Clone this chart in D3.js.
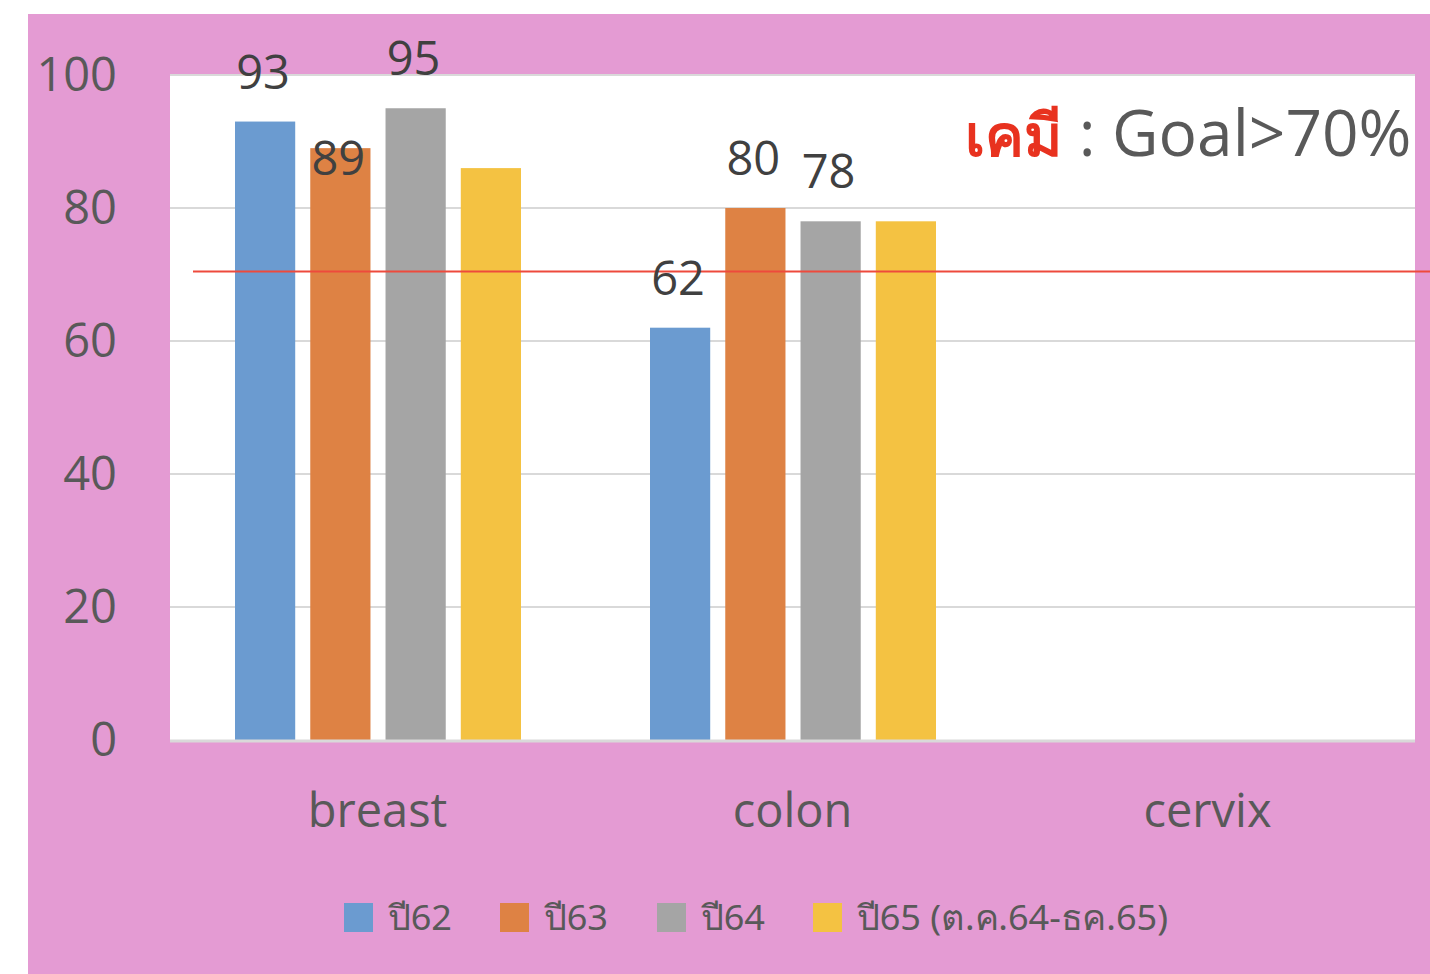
<!DOCTYPE html>
<html>
<head>
<meta charset="utf-8">
<script src="https://cdn.jsdelivr.net/npm/d3@7"></script>
<style>
body { margin: 0; background: #fff; }
text { font-family: "Open Sans", "Noto Sans", sans-serif; }
</style>
</head>
<body>
<div id="chart"></div>
<script>
// data
var categories = ["breast", "colon", "cervix"];
var seriesNames = ["ปี62", "ปี63", "ปี64", "ปี65 (ต.ค.64-ธค.65)"];
var y62 = [93, 62, null];
var y63 = [89, 80, null];
var y64 = [95, 78, null];
var y65 = [86, 78, null];
// labels shown on the chart (null = no label)
var lab62 = [93, 62, null];
var lab63 = [89, 80, null];
var lab64 = [95, 78, null];
var lab65 = [null, null, null];
var yTicks = [0, 20, 40, 60, 80, 100];
var goal = 70;

var colors = ["#6b9bd0", "#de8244", "#a5a5a5", "#f4c242"];
var seriesVals = [y62, y63, y64, y65];
var seriesLabs = [lab62, lab63, lab64, lab65];

var W = 1430, H = 974;
var plot = {left: 170, right: 1415, top: 75, bottom: 740};

var svg = d3.select("#chart").append("svg")
  .attr("width", W).attr("height", H);

// pink frame
svg.append("rect")
  .attr("x", 28).attr("y", 14)
  .attr("width", W - 28).attr("height", H - 14)
  .attr("fill", "#e49bd3");

svg.append("rect")
  .attr("x", plot.left).attr("y", plot.top)
  .attr("width", plot.right - plot.left).attr("height", plot.bottom - plot.top)
  .attr("fill", "#ffffff");

var x0 = d3.scaleBand().domain(categories).range([plot.left, plot.right]);
var x1 = d3.scaleBand().domain(d3.range(4))
  .range([65, x0.bandwidth() - 64]).paddingInner(0.2).paddingOuter(0);
var y = d3.scaleLinear().domain([0, 100]).range([plot.bottom, plot.top]);

// gridlines
svg.append("g").selectAll("line")
  .data(yTicks.filter(function (d) { return d > 0; }))
  .enter().append("line")
  .attr("x1", plot.left).attr("x2", plot.right)
  .attr("y1", function (d) { return y(d); })
  .attr("y2", function (d) { return y(d); })
  .attr("stroke", "#d9d9d9").attr("stroke-width", 2);

// y tick labels
svg.append("g").selectAll("text")
  .data(yTicks)
  .enter().append("text")
  .attr("x", 117)
  .attr("y", function (d) { return y(d); })
  .attr("dy", "0.35em")
  .attr("text-anchor", "end")
  .style("font-size", "47px")
  .style("fill", "#595959")
  .text(function (d) { return d; });

// bars
var rows = [];
seriesVals.forEach(function (vals, s) {
  vals.forEach(function (v, c) {
    if (v != null) rows.push({s: s, cat: categories[c], v: v, lab: seriesLabs[s][c]});
  });
});

svg.append("g").selectAll("rect")
  .data(rows)
  .enter().append("rect")
  .attr("x", function (d) { return x0(d.cat) + x1(d.s); })
  .attr("y", function (d) { return y(d.v); })
  .attr("width", x1.bandwidth())
  .attr("height", function (d) { return y(0) - y(d.v); })
  .attr("fill", function (d) { return colors[d.s]; });

// x axis line
svg.append("line")
  .attr("x1", plot.left).attr("x2", plot.right)
  .attr("y1", y(0) + 1).attr("y2", y(0) + 1)
  .attr("stroke", "#d9d9d9").attr("stroke-width", 3);

// goal line (drawn by hand in the original, sits a touch above 70)
svg.append("line")
  .attr("x1", 193).attr("x2", W)
  .attr("y1", y(goal) - 3).attr("y2", y(goal) - 3)
  .attr("stroke", "#ee4a3c").attr("stroke-width", 2);

// data labels (the 89 one sits inside its bar in the original)
var labelDy = {"breast-1": 27};
svg.append("g").selectAll("text")
  .data(rows.filter(function (d) { return d.lab != null; }))
  .enter().append("text")
  .attr("x", function (d) { return x0(d.cat) + x1(d.s) + x1.bandwidth() / 2 - 2; })
  .attr("y", function (d) {
    var k = d.cat + "-" + d.s;
    return y(d.v) + (labelDy[k] != null ? labelDy[k] : -33);
  })
  .attr("text-anchor", "middle")
  .style("font-size", "47px")
  .style("fill", "#404040")
  .text(function (d) { return d.lab; });

// category labels
svg.append("g").selectAll("text")
  .data(categories)
  .enter().append("text")
  .attr("x", function (d) { return x0(d) + x0.bandwidth() / 2; })
  .attr("y", 827)
  .attr("text-anchor", "middle")
  .style("font-size", "47px")
  .style("fill", "#595959")
  .text(function (d) { return d; });

// goal note
var note = svg.append("text")
  .attr("x", 965).attr("y", 156)
  .style("font-size", "64px");
note.append("tspan")
  .style("fill", "#e8321f").style("font-weight", "bold")
  .style("font-size", "58px")
  .style("font-family", "'Noto Sans', sans-serif")
  .text("เคมี");
note.append("tspan")
  .style("fill", "#595959")
  .text(" : Goal>" + goal + "%");

// legend
var legX = [344, 500, 657, 813];
var leg = svg.append("g").selectAll("g")
  .data(seriesNames)
  .enter().append("g")
  .attr("transform", function (d, i) { return "translate(" + legX[i] + ",903)"; });
leg.append("rect")
  .attr("width", 29).attr("height", 29)
  .attr("fill", function (d, i) { return colors[i]; });
leg.append("text")
  .attr("x", 44).attr("y", 27)
  .style("font-size", "35px")
  .style("font-family", "'Noto Sans', sans-serif")
  .style("fill", "#595959")
  .attr("textLength", function (d, i) { return i < 3 ? 64 : 311; })
  .attr("lengthAdjust", "spacingAndGlyphs")
  .text(function (d) { return d; });
</script>
</body>
</html>
